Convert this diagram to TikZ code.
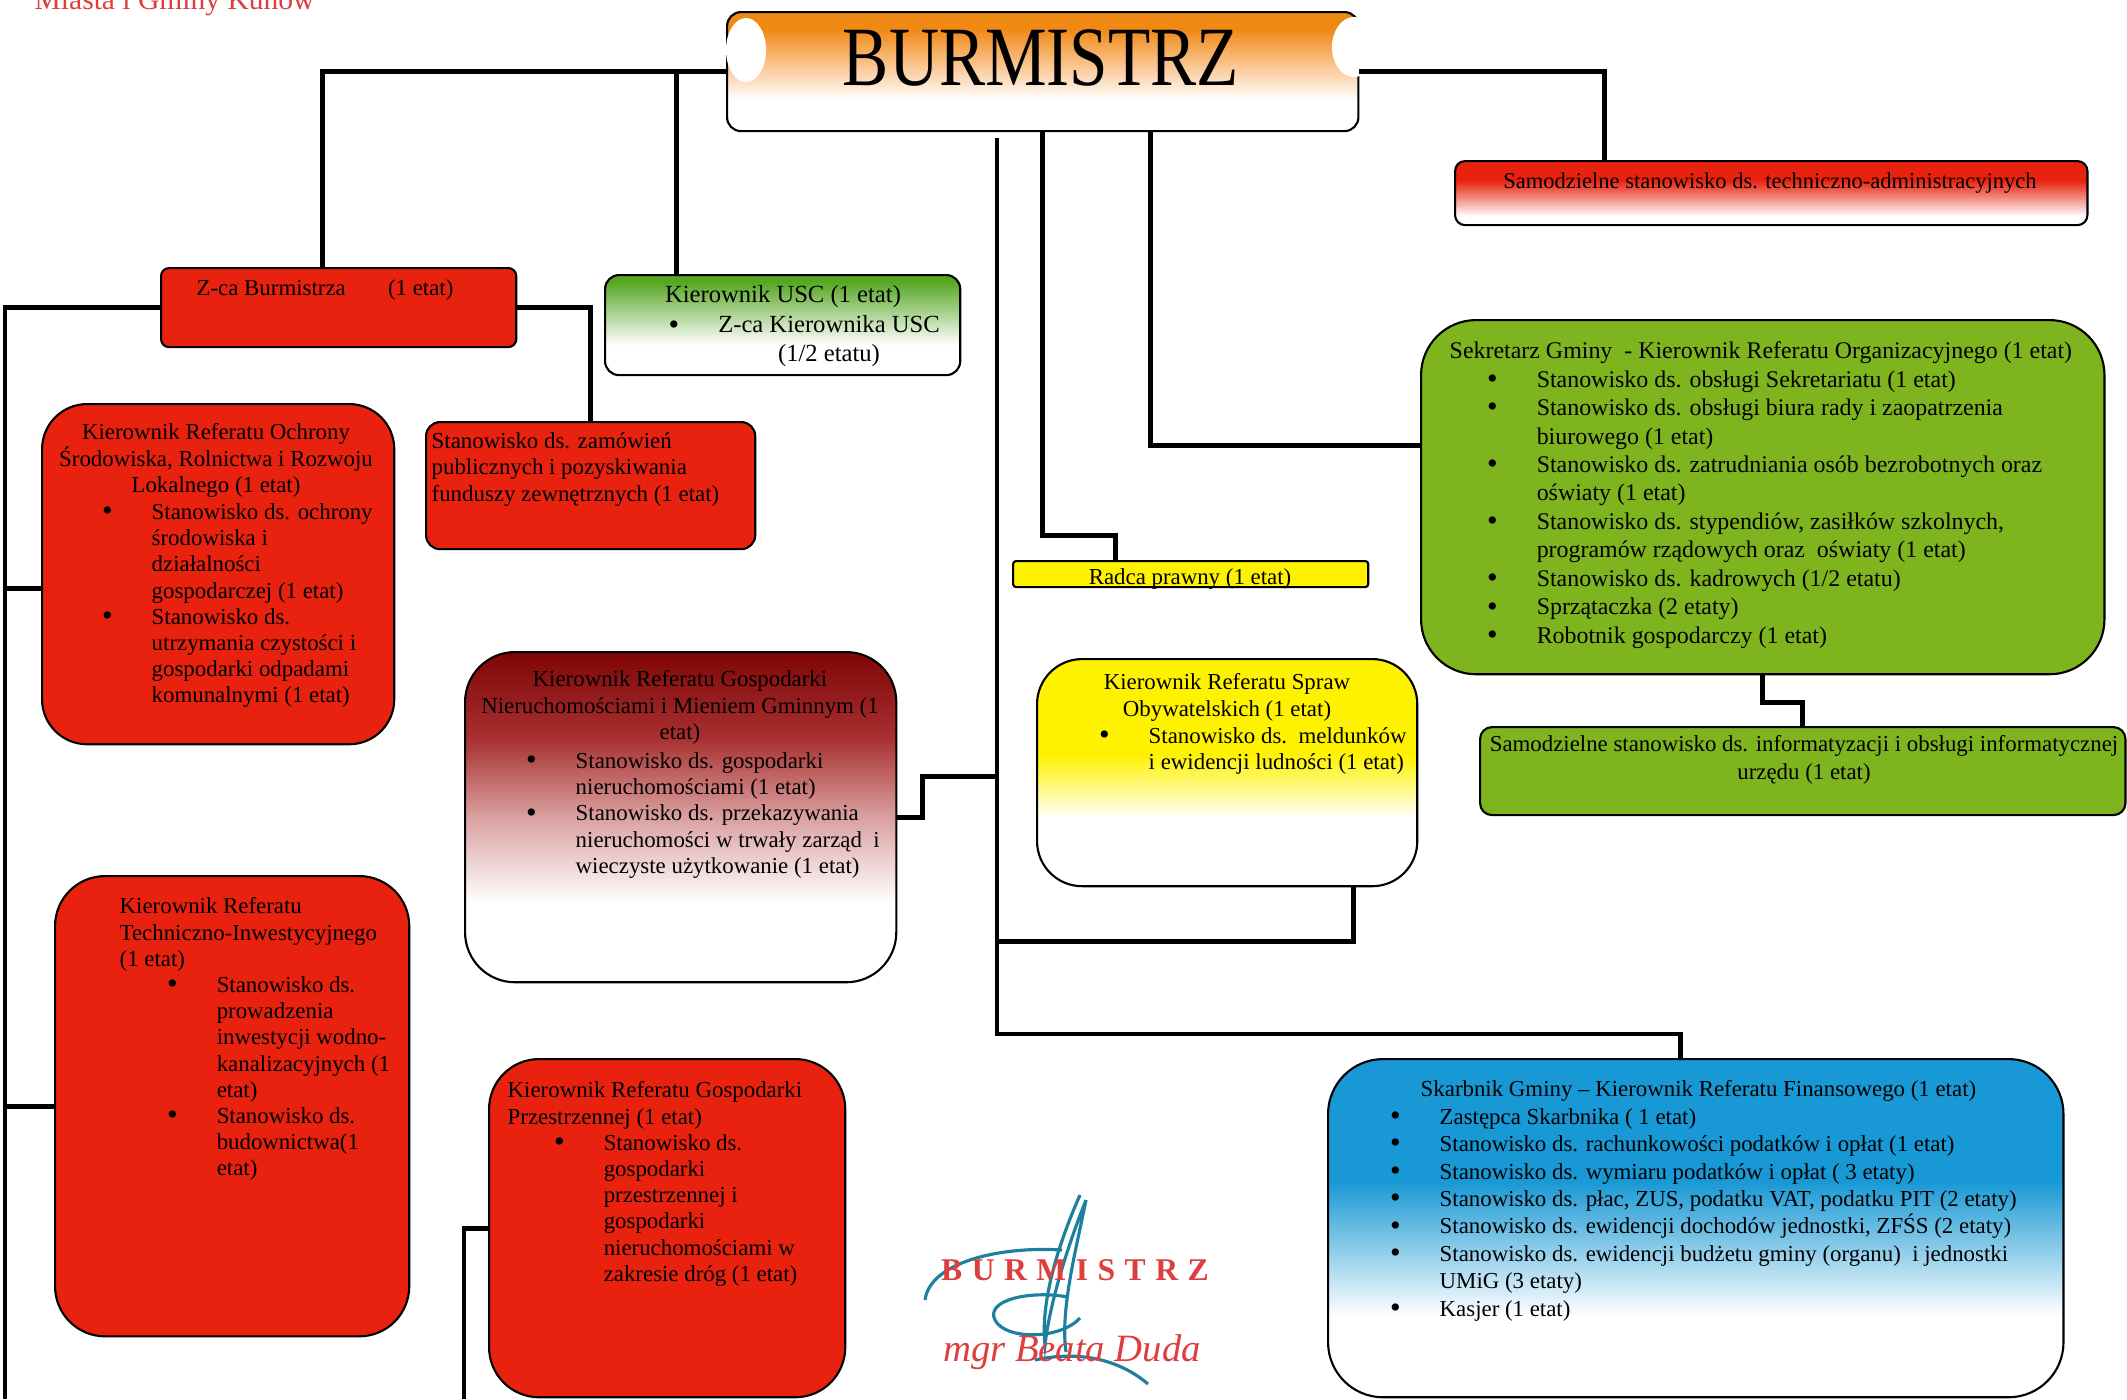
\documentclass[tikz,border=0pt]{standalone}
\usepackage{fontspec}
\usepackage{graphicx}
\setmainfont{Liberation Serif}
\usetikzlibrary{positioning}

\definecolor{czerw}{RGB}{232,34,14}
\definecolor{czerwjasny}{RGB}{246,150,140}
\definecolor{ciemnoczerw}{RGB}{128,6,6}
\definecolor{niersredni}{RGB}{168,48,48}
\definecolor{nierjasny}{RGB}{218,160,160}
\definecolor{pomar}{RGB}{240,136,20}
\definecolor{pomarjasny}{RGB}{250,200,150}
\definecolor{ziel}{RGB}{126,180,30}
\definecolor{zielusc}{RGB}{86,166,34}
\definecolor{zolty}{RGB}{255,242,0}
\definecolor{nieb}{RGB}{24,152,212}
\definecolor{podpis}{RGB}{222,62,62}
\definecolor{atrament}{RGB}{30,128,160}

% gradients: 25bp = bottom of box, 75bp = top of box
\pgfdeclareverticalshading{burmcien}{100bp}{color(0bp)=(white); color(38bp)=(white); color(52bp)=(pomarjasny); color(68bp)=(pomar); color(100bp)=(pomar)}
\pgfdeclareverticalshading{techcien}{100bp}{color(0bp)=(white); color(32bp)=(white); color(45bp)=(czerwjasny); color(60bp)=(czerw); color(100bp)=(czerw)}
\pgfdeclareverticalshading{usccien}{100bp}{color(0bp)=(white); color(40bp)=(white); color(72bp)=(zielusc); color(100bp)=(zielusc)}
\pgfdeclareverticalshading{niercien}{100bp}{color(0bp)=(white); color(37bp)=(white); color(50bp)=(nierjasny); color(62bp)=(niersredni); color(75bp)=(ciemnoczerw); color(100bp)=(ciemnoczerw)}
\pgfdeclareverticalshading{sprawcien}{100bp}{color(0bp)=(white); color(40bp)=(white); color(54bp)=(zolty); color(100bp)=(zolty)}
\pgfdeclareverticalshading{skarbcien}{100bp}{color(0bp)=(white); color(37bp)=(white); color(57bp)=(nieb); color(100bp)=(nieb)}

\def\pktin{0.5cm}
\def\pktgap{0.39cm}
\newcommand{\kropka}{\raisebox{-0.35pt}{\fontsize{8.6}{8}\selectfont\textbullet}}
\newcommand{\pkt}{\hspace*{\pktin}\llap{\kropka\hspace{\pktgap}}}
\newcommand{\dal}{\hspace*{\pktin}}

\begin{document}
\begin{tikzpicture}[x=0.01cm, y=-0.01cm,
    box/.style={draw, line width=0.6pt, anchor=north west, inner sep=0pt},
    conn/.style={line width=1.4pt},
    txt/.style={inner sep=0pt, align=left, anchor=north west},
    srodek/.style={inner sep=0pt, align=center, anchor=north},
    mala/.style={font=\fontsize{6.5}{7.45}\selectfont},
    srednia/.style={font=\fontsize{6.5}{7.8}\selectfont},
    duza/.style={font=\fontsize{7}{8.1}\selectfont},
    wciecie/.store in=\pktin, odstep/.store in=\pktgap]
  \fill[white] (0,0) rectangle (2127,1399);
  \useasboundingbox (0,0) rectangle (2127,1399);

  \node[anchor=base west, inner sep=0pt, text=podpis, font=\fontsize{8.4}{9}\selectfont] (naglowek) at (34,9) {Miasta i Gminy Kunów};

  % boxes
  \node[box, shade, shading=burmcien, minimum width=6.31cm, minimum height=1.19cm, rounded corners=0.14cm] (burm) at (726,11) {};
  \fill[white] (746,50) ellipse (0.2cm and 0.32cm);
  \fill[white] (1354,47) ellipse (0.22cm and 0.3cm);
  \node[inner sep=0pt, font=\fontsize{24}{24}\selectfont] (burmT) at (1041,58) {\scalebox{0.82}[1]{BURMISTRZ}};

  \node[box, shade, shading=techcien, minimum width=6.32cm, minimum height=0.64cm, rounded corners=0.1cm] (techn) at (1454,160) {};
  \node[box, fill=czerw, minimum width=3.55cm, minimum height=0.79cm, rounded corners=0.08cm] (zca) at (160,267) {};
  \node[box, shade, shading=usccien, minimum width=3.55cm, minimum height=1cm, rounded corners=0.14cm] (usc) at (604,274) {};
  \node[box, fill=czerw, minimum width=3.52cm, minimum height=3.4cm, rounded corners=0.45cm] (ochr) at (41,403) {};
  \node[box, fill=czerw, minimum width=3.29cm, minimum height=1.27cm, rounded corners=0.14cm] (zam) at (425,421) {};
  \node[box, shade, shading=niercien, minimum width=4.31cm, minimum height=3.3cm, rounded corners=0.5cm] (nier) at (464,651) {};
  \node[box, fill=zolty, minimum width=3.55cm, minimum height=0.26cm, rounded corners=0.03cm] (radca) at (1012,560) {};
  \node[box, shade, shading=sprawcien, minimum width=3.8cm, minimum height=2.27cm, rounded corners=0.45cm] (spraw) at (1036,658) {};
  \node[box, fill=ziel, minimum width=6.83cm, minimum height=3.54cm, rounded corners=0.55cm] (sekr) at (1420,319) {};
  \node[box, fill=ziel, minimum width=6.45cm, minimum height=0.88cm, rounded corners=0.12cm] (infor) at (1479,726) {};
  \node[box, fill=czerw, minimum width=3.54cm, minimum height=4.6cm, rounded corners=0.5cm] (tech) at (54,875) {};
  \node[box, fill=czerw, minimum width=3.56cm, minimum height=3.38cm, rounded corners=0.5cm] (przes) at (488,1058) {};
  \node[box, shade, shading=skarbcien, minimum width=7.35cm, minimum height=3.38cm, rounded corners=0.55cm] (skarb) at (1327,1058) {};

  % connectors
  \coordinate (pien) at (997,138);
  \coordinate (lewy) at (5,1399);
  \coordinate (dolny) at (464,1399);
  \draw[conn] (burm.west) -| ([xshift=-0.16cm]zca.north);
  \draw[conn] ([xshift=-1.06cm]usc.north) |- (burm.west);
  \draw[conn] (burm.east) -| ([xshift=-1.67cm]techn.north);
  \draw[conn] (pien) -- ++(0,896) -| ([xshift=-0.15cm]skarb.north);
  \draw[conn] (nier.east) -- ++(25,0) -- ++(0,-41) -- ++(77,0);
  \draw[conn] ([xshift=1.26cm]spraw.south) -- ++(0,54) -- ++(-355,0);
  \draw[conn] (burm.south) -- ++(0,403) -| ([xshift=-0.75cm]radca.north);
  \draw[conn] ([yshift=0.52cm]sekr.west) -| ([xshift=1.08cm]burm.south);
  \draw[conn] (sekr.south) -- ++(0,27) -| (infor.north);
  \draw[conn] (zca.west) -| (lewy);
  \draw[conn] ([yshift=-0.14cm]ochr.west) -- ([yshift=-0.14cm]ochr.west -| lewy);
  \draw[conn] (tech.west) -- (tech.west -| lewy);
  \draw[conn] (zca.east) -| (zam.north);
  \draw[conn] (przes.west) -| (dolny);

  % texts
  \node[mala] (zcaT) at (325,290) {Z-ca Burmistrza\hspace{12pt}(1 etat)};
  \node[duza] (uscT) at (783,297) {Kierownik USC (1 etat)};
  \node[srodek, duza] (uscL) at (829,315) {\llap{\kropka\hspace{0.39cm}}Z-ca Kierownika USC\\(1/2 etatu)};
  \node[font=\fontsize{6.4}{7.5}\selectfont] (technT) at (1770,183) {Samodzielne stanowisko ds. techniczno-administracyjnych};
  \node[txt, mala] (zamT) at (431,432) {Stanowisko ds. zamówień\\publicznych i pozyskiwania\\funduszy zewnętrznych (1 etat)};
  \node[srodek, mala] (ochrT) at (216,423) {Kierownik Referatu Ochrony\\Środowiska, Rolnictwa i Rozwoju\\Lokalnego (1 etat)};
  \node[txt, mala] (ochrL) at (101,503) {\pkt Stanowisko ds. ochrony\\ \dal środowiska i\\ \dal działalności\\ \dal gospodarczej (1 etat)\\
    \pkt Stanowisko ds.\\ \dal utrzymania czystości i\\ \dal gospodarki odpadami\\ \dal komunalnymi (1 etat)};
  \node[srodek, mala] (nierT) at (680,670) {Kierownik Referatu Gospodarki\\Nieruchomościami i Mieniem Gminnym (1\\etat)};
  \node[txt, mala] (nierL) at (525,752) {\pkt Stanowisko ds. gospodarki\\ \dal nieruchomościami (1 etat)\\
    \pkt Stanowisko ds. przekazywania\\ \dal nieruchomości w trwały zarząd\ \ i\\ \dal wieczyste użytkowanie (1 etat)};
  \node[mala, inner sep=0pt, anchor=base] (radcaT) at (1190,584) {Radca prawny (1 etat)};
  \node[srodek, mala] (sprawT) at (1227,673) {Kierownik Referatu Spraw\\Obywatelskich (1 etat)};
  \node[txt, mala] (sprawL) at (1098,727) {\pkt Stanowisko ds.\ \ meldunków\\ \dal i ewidencji ludności (1 etat)};
  \node[txt, font=\fontsize{6.8}{8.1}\selectfont, wciecie=0.87cm] (sekrL) at (1449,341) {Sekretarz Gminy\ \ - Kierownik Referatu Organizacyjnego (1 etat)\\
    \pkt Stanowisko ds. obsługi Sekretariatu (1 etat)\\
    \pkt Stanowisko ds. obsługi biura rady i zaopatrzenia\\ \dal biurowego (1 etat)\\
    \pkt Stanowisko ds. zatrudniania osób bezrobotnych oraz\\ \dal oświaty (1 etat)\\
    \pkt Stanowisko ds. stypendiów, zasiłków szkolnych,\\ \dal programów rządowych oraz\ \ oświaty (1 etat)\\
    \pkt Stanowisko ds. kadrowych (1/2 etatu)\\
    \pkt Sprzątaczka (2 etaty)\\
    \pkt Robotnik gospodarczy (1 etat)};
  \node[srodek, srednia] (inforT) at (1804,735) {Samodzielne stanowisko ds. informatyzacji i obsługi informatycznej\\urzędu (1 etat)};
  \node[txt, mala, wciecie=0.97cm] (techL) at (119,897) {Kierownik Referatu\\Techniczno-Inwestycyjnego\\(1 etat)\\
    \pkt Stanowisko ds.\\ \dal prowadzenia\\ \dal inwestycji wodno-\\ \dal kanalizacyjnych (1\\ \dal etat)\\
    \pkt Stanowisko ds.\\ \dal budownictwa(1\\ \dal etat)};
  \node[txt, mala, wciecie=0.96cm] (przesL) at (507,1081) {Kierownik Referatu Gospodarki\\Przestrzennej (1 etat)\\
    \pkt Stanowisko ds.\\ \dal gospodarki\\ \dal przestrzennej i\\ \dal gospodarki\\ \dal nieruchomościami w\\ \dal zakresie dróg (1 etat)};
  \node[txt, srednia, wciecie=0.19cm] (skarbL) at (1420,1080) {Skarbnik Gminy – Kierownik Referatu Finansowego (1 etat)\\
    \pkt Zastępca Skarbnika ( 1 etat)\\
    \pkt Stanowisko ds. rachunkowości podatków i opłat (1 etat)\\
    \pkt Stanowisko ds. wymiaru podatków i opłat ( 3 etaty)\\
    \pkt Stanowisko ds. płac, ZUS, podatku VAT, podatku PIT (2 etaty)\\
    \pkt Stanowisko ds. ewidencji dochodów jednostki, ZFŚS (2 etaty)\\
    \pkt Stanowisko ds. ewidencji budżetu gminy (organu)\ \ i jednostki\\ \dal UMiG (3 etaty)\\
    \pkt Kasjer (1 etat)};

  % signature
  \draw[atrament, line width=0.9pt] (925,1300) .. controls (930,1262) and (1000,1246) .. (1062,1250);
  \draw[atrament, line width=0.9pt] (1080,1195) .. controls (1060,1240) and (1040,1300) .. (1045,1345) .. controls (1050,1300) and (1070,1240) .. (1086,1200) .. controls (1076,1250) and (1060,1310) .. (1066,1352);
  \draw[atrament, line width=0.9pt] (1068,1297) .. controls (1030,1290) and (985,1300) .. (995,1320) .. controls (1005,1340) and (1060,1340) .. (1080,1318);
  \draw[atrament, line width=0.9pt] (1035,1360) .. controls (1080,1350) and (1120,1360) .. (1148,1384);
  \node[text=podpis, font=\fontsize{9}{9}\selectfont\bfseries\addfontfeature{LetterSpace=30}] (podpisT) at (1075,1270) {BURMISTRZ};
  \node[text=podpis, font=\fontsize{11}{11}\selectfont\itshape] (podpisN) at (1072,1352) {mgr Beata Duda};
\end{tikzpicture}
\end{document}
